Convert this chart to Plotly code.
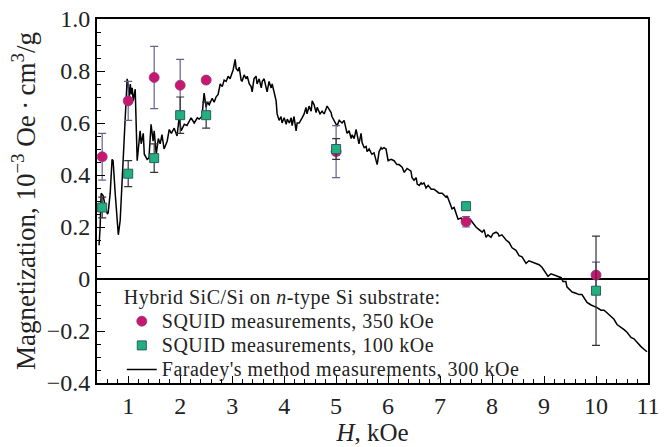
import plotly.graph_objects as go

# ---- Faraday's method measurements, 300 kOe (line) ----
far_x = [0.44, 0.46, 0.48, 0.52, 0.56, 0.60, 0.615, 0.654, 0.69, 0.71, 0.75, 0.79, 0.81, 0.846, 0.885, 0.94, 0.98,
         1.0, 1.02, 1.04, 1.06, 1.077, 1.096, 1.135, 1.154, 1.173, 1.21, 1.23, 1.25, 1.29, 1.31, 1.365, 1.40, 1.44,
         1.48, 1.50, 1.54, 1.58, 1.615, 1.65, 1.69, 1.75, 1.79, 1.83, 1.885, 1.94, 1.98, 2.02, 2.08, 2.13, 2.21,
         2.27, 2.33,
         2.365, 2.42, 2.46, 2.50, 2.52, 2.56, 2.615, 2.654, 2.69, 2.73, 2.77, 2.81, 2.846, 2.885, 2.923, 2.96, 3.0,
         3.02, 3.058, 3.077, 3.115, 3.135, 3.173, 3.19, 3.23, 3.27, 3.29, 3.33, 3.365, 3.385, 3.42, 3.46, 3.48,
         3.52, 3.56, 3.58, 3.615, 3.654, 3.673, 3.71, 3.75, 3.77, 3.81, 3.846, 3.865, 3.904, 3.94, 3.96, 4.0, 4.04,
         4.06, 4.1, 4.135, 4.154, 4.19, 4.23, 4.25,
         4.29, 4.346, 4.385, 4.42, 4.44, 4.48, 4.52, 4.54, 4.577, 4.615, 4.635, 4.69, 4.73, 4.77, 4.827, 4.904,
         4.92, 5.0, 5.02, 5.06, 5.115, 5.154, 5.19, 5.21, 5.25, 5.29, 5.31, 5.346, 5.385, 5.404, 5.44, 5.48, 5.5,
         5.54, 5.577, 5.596, 5.635, 5.673, 5.69, 5.73, 5.77, 5.79, 5.827, 5.865, 5.885, 5.92, 5.96, 6.0, 6.058,
         6.115, 6.17,
         6.21, 6.27, 6.31, 6.365, 6.44, 6.46, 6.5, 6.54, 6.56, 6.6, 6.635, 6.654, 6.69, 6.73, 6.77, 6.83, 6.885,
         6.92, 6.98, 7.04, 7.115, 7.135, 7.17, 7.21, 7.23, 7.27, 7.31, 7.346, 7.404, 7.42, 7.48, 7.52, 7.577, 7.615,
         7.654, 7.69, 7.75, 7.81, 7.846, 7.885, 7.92, 7.98, 8.02, 8.077, 8.115,
         8.135, 8.19, 8.27, 8.33, 8.385, 8.46, 8.52, 8.577, 8.654, 8.71, 8.77, 8.846, 8.904, 8.96, 9.04, 9.077,
         9.135, 9.19, 9.25, 9.33, 9.365, 9.42, 9.44, 9.5, 9.54, 9.615, 9.673, 9.73, 9.79, 9.827, 9.904, 9.96,
         10.02, 10.096, 10.154, 10.21, 10.29, 10.346, 10.404, 10.48, 10.54, 10.596, 10.673, 10.73, 10.79, 10.865,
         10.923, 10.98]
far_y = [0.13, 0.20, 0.33, 0.32, 0.275, 0.25, 0.255, 0.33, 0.46, 0.455, 0.33, 0.19, 0.17, 0.225, 0.39, 0.58, 0.77,
         0.75, 0.695, 0.75, 0.71, 0.735, 0.685, 0.73, 0.58, 0.455, 0.53, 0.57, 0.52, 0.56, 0.48, 0.46, 0.465, 0.595,
         0.53, 0.57, 0.48, 0.54, 0.52, 0.555, 0.50, 0.53, 0.575, 0.56, 0.58, 0.55, 0.62, 0.57, 0.595, 0.59, 0.62,
         0.60, 0.62,
         0.615, 0.625, 0.715, 0.66, 0.68, 0.67, 0.695, 0.68, 0.70, 0.71, 0.75, 0.74, 0.765, 0.76, 0.78, 0.77, 0.79,
         0.805, 0.845, 0.81, 0.80, 0.815, 0.765, 0.76, 0.785, 0.77, 0.78, 0.75, 0.74, 0.72, 0.77, 0.78, 0.75,
         0.77, 0.735, 0.76, 0.77, 0.74, 0.72, 0.76, 0.735, 0.75, 0.71, 0.685, 0.635, 0.61, 0.625, 0.60, 0.62, 0.595,
         0.615, 0.60, 0.62, 0.59, 0.625, 0.57, 0.60,
         0.60, 0.62, 0.635, 0.66, 0.635, 0.665, 0.645, 0.685, 0.67, 0.64, 0.66, 0.635, 0.645, 0.635, 0.665, 0.64,
         0.625, 0.595, 0.59, 0.61, 0.60, 0.61, 0.58, 0.56, 0.57, 0.54, 0.555, 0.54, 0.575, 0.555, 0.52, 0.56, 0.525,
         0.505, 0.51, 0.49, 0.50, 0.485, 0.48, 0.485, 0.46, 0.44, 0.49, 0.505, 0.50, 0.505, 0.50, 0.455, 0.46,
         0.455, 0.44,
         0.44, 0.43, 0.41, 0.425, 0.415, 0.39, 0.38, 0.39, 0.365, 0.36, 0.37, 0.365, 0.37, 0.35, 0.36, 0.345, 0.345,
         0.34, 0.33, 0.33, 0.315, 0.32, 0.30, 0.275, 0.27, 0.275, 0.255, 0.23, 0.235, 0.225, 0.23, 0.235, 0.23, 0.22,
         0.205, 0.20, 0.19, 0.18, 0.19, 0.16, 0.17, 0.16, 0.175, 0.18, 0.175,
         0.165, 0.17, 0.15, 0.14, 0.12, 0.11, 0.09, 0.085, 0.06, 0.07, 0.065, 0.06, 0.055, 0.045, 0.02, 0.01,
         0.02, 0.015, 0.01, 0.005, -0.01, -0.01, -0.03, -0.04, -0.05, -0.055, -0.06, -0.06, -0.08, -0.09, -0.10, -0.105,
         -0.11, -0.12, -0.12, -0.13, -0.145, -0.155, -0.175, -0.185, -0.195, -0.205, -0.225, -0.23, -0.245, -0.26,
         -0.27, -0.28]

# ---- SQUID measurements, 350 kOe (circles) ----
sq350_x = [0.5, 1.0, 1.5, 2.0, 2.5, 5.0, 7.5, 10.0]
sq350_y = [0.47, 0.685, 0.775, 0.745, 0.765, 0.49, 0.22, 0.015]
sq350_err = [0.09, 0.075, 0.12, 0.10, 0.0, 0.10, 0.02, 0.05]

# ---- SQUID measurements, 100 kOe (squares) ----
sq100_x = [0.5, 1.0, 1.5, 2.0, 2.5, 5.0, 7.5, 10.0]
sq100_y = [0.275, 0.405, 0.465, 0.63, 0.63, 0.50, 0.28, -0.045]
sq100_err = [0.04, 0.05, 0.055, 0.07, 0.05, 0.04, 0.015, 0.21]

# ---- axis ticks ----
x_ticks = [1, 2, 3, 4, 5, 6, 7, 8, 9, 10, 11]
y_ticks = [-0.4, -0.2, 0, 0.2, 0.4, 0.6, 0.8, 1.0]
y_ticklabels = ["\u22120.4", "\u22120.2", "0", "0.2", "0.4", "0.6", "0.8", "1.0"]
x_range = [0.4, 11]
y_range = [-0.4, 1.0]

FONT = "Liberation Serif, Times New Roman, serif"
LEG_STYLE = "font-size:20px;letter-spacing:0.5px"


def leg(txt):
    return f'<span style="{LEG_STYLE}">{txt}</span>'


fig = go.Figure()

fig.add_trace(go.Scatter(
    x=far_x, y=far_y, mode="lines",
    line=dict(color="black", width=1.5),
    name=leg("Faradey's method measurements, 300 kOe"),
    legendrank=3,
))

fig.add_trace(go.Scatter(
    x=sq350_x, y=sq350_y, mode="markers",
    marker=dict(symbol="circle", size=10, color="#c8176e",
                line=dict(color="#8a3a7e", width=0.8)),
    error_y=dict(type="data", array=sq350_err, visible=True,
                 color="#6a5f95", thickness=1.2, width=4),
    name=leg("SQUID measurements, 350 kOe"),
    legendrank=1,
))

fig.add_trace(go.Scatter(
    x=sq100_x, y=sq100_y, mode="markers",
    marker=dict(symbol="square", size=9, color="#22b07d",
                line=dict(color="#2b5c6b", width=1)),
    error_y=dict(type="data", array=sq100_err, visible=True,
                 color="#333333", thickness=1.2, width=4),
    name=leg("SQUID measurements, 100 kOe"),
    legendrank=2,
))

axis_common = dict(
    showgrid=False,
    showline=True, linecolor="black", linewidth=2, mirror=True,
    ticks="inside", tickcolor="black", tickwidth=1.2,
    tickfont=dict(family=FONT, size=24, color="#222"),
)

fig.update_layout(
    width=672, height=447,
    margin=dict(l=97, r=24, t=19, b=64, autoexpand=False),
    paper_bgcolor="white", plot_bgcolor="white",
    font=dict(family=FONT, color="#222"),
    showlegend=True,
    legend=dict(
        x=0.045, y=0.275, xanchor="left", yanchor="top",
        bgcolor="rgba(0,0,0,0)",
        font=dict(family=FONT, size=16.3, color="#222"),
        title=dict(text=leg("Hybrid SiC/Si on <i>n</i>-type Si substrate:"),
                   font=dict(family=FONT, size=16.3, color="#222")),
        tracegroupgap=0, itemwidth=30,
    ),
    xaxis=dict(
        range=x_range, tickmode="array", tickvals=x_ticks, ticklen=7,
        zeroline=False,
        minor=dict(tickmode="linear", tick0=0, dtick=0.2, ticks="inside",
                   ticklen=4, tickcolor="black", tickwidth=1),
        title=dict(text="<i>H</i>, kOe", font=dict(family=FONT, size=25, color="#222"), standoff=5),
        **axis_common,
    ),
    yaxis=dict(
        range=y_range, tickmode="array", tickvals=y_ticks, ticktext=y_ticklabels, ticklen=8,
        zeroline=True, zerolinecolor="black", zerolinewidth=1.5,
        minor=dict(tickmode="linear", tick0=0, dtick=0.05, ticks="inside",
                   ticklen=4, tickcolor="black", tickwidth=1),
        title=dict(text="Magnetization, 10<sup>\u22123</sup> Oe\u2009\u00b7\u2009cm<sup>3</sup>/g",
                   font=dict(family=FONT, size=27, color="#222"), standoff=3),
        **axis_common,
    ),
    xaxis2=dict(
        overlaying="x", side="top", range=x_range, tickmode="array", tickvals=x_ticks,
        ticks="inside", ticklen=7, tickcolor="black", tickwidth=1.2,
        showticklabels=False, showgrid=False, zeroline=False, showline=False,
    ),
    yaxis2=dict(
        overlaying="y", side="right", range=y_range, tickmode="array", tickvals=y_ticks,
        ticks="inside", ticklen=9, tickcolor="black", tickwidth=1.2,
        showticklabels=False, showgrid=False, zeroline=False, showline=False,
    ),
)

fig.write_html("out.html")
